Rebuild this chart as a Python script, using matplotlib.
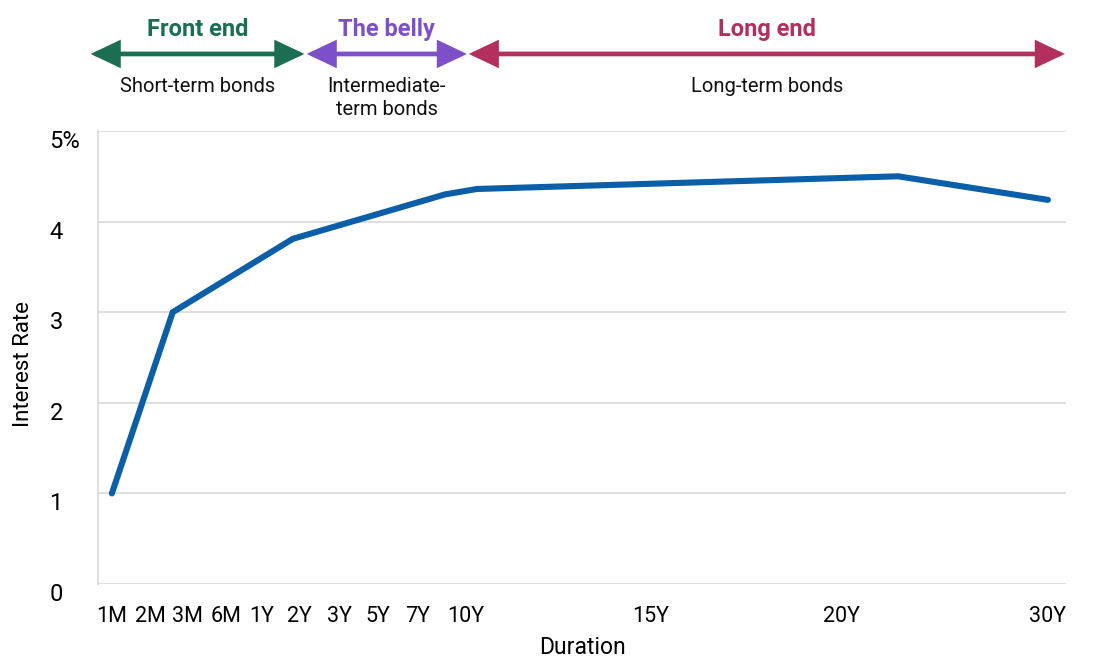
import matplotlib.pyplot as plt
from matplotlib.transforms import ScaledTranslation

plt.rcParams['font.family'] = ['Roboto', 'DejaVu Sans']

# x axis: duration labels and their positions on the (non-linear) axis
tick_labels = ['1M', '2M', '3M', '6M', '1Y', '2Y', '3Y', '5Y', '7Y', '10Y', '15Y', '20Y', '30Y']
tick_pos = [0, 0.99, 1.97, 2.96, 3.9, 4.88, 5.9, 6.91, 7.95, 9.19, 14.0, 18.94, 24.29]

# yield curve
curve_x = [0, 1.58, 4.70, 8.65, 9.48, 20.42, 24.31]
curve_y = [1.0, 3.0, 3.81, 4.30, 4.36, 4.50, 4.24]

# curve segments shown above the chart
seg_names = ['Front end', 'The belly', 'Long end']
seg_notes = ['Short-term bonds', 'Intermediate-\nterm bonds', 'Long-term bonds']
seg_colors = ['#1b6e52', '#7d4fc9', '#b3305e']
seg_start = [-0.55, 5.06, 9.27]
seg_end = [5.0, 9.22, 24.75]

fig = plt.figure(figsize=(11, 6.66), dpi=100)
ax = fig.add_axes([0.0891, 0.1231, 0.88, 0.6802])

ax.plot(curve_x, curve_y, color='#0b5ea8', lw=4.4, solid_joinstyle='miter', solid_capstyle='round')

ax.set_xlim(-0.36, 24.78)
ax.set_ylim(0, 5)
ax.set_xticks(tick_pos)
ax.set_xticklabels(tick_labels)
ax.set_yticks([0, 1, 2, 3, 4, 5])
ax.set_yticklabels(['0', '1', '2', '3', '4', '5%'])
ax.grid(axis='y', color='#dcdcdc', lw=1.3)
ax.set_axisbelow(True)
for s in ['top', 'right', 'bottom']:
    ax.spines[s].set_visible(False)
ax.spines['left'].set_color('#dcdcdc')
ax.spines['left'].set_linewidth(1.3)
ax.tick_params(axis='x', length=0, labelsize=15.5, pad=16)
ax.tick_params(axis='y', length=0, labelsize=17, pad=35)
for lab in ax.get_yticklabels():
    lab.set_horizontalalignment('left')
    lab.set_transform(lab.get_transform() + ScaledTranslation(0, -0.08, fig.dpi_scale_trans))

ax.set_xlabel('Duration', fontsize=16.5, labelpad=6)
ax.set_ylabel('Interest Rate', fontsize=16)
ax.yaxis.set_label_coords(-0.066, 0.485)

for name, note, c, x0, x1 in zip(seg_names, seg_notes, seg_colors, seg_start, seg_end):
    ax.annotate('', xy=(x1, 0.919), xytext=(x0, 0.919),
                xycoords=('data', 'figure fraction'), textcoords=('data', 'figure fraction'),
                annotation_clip=False,
                arrowprops=dict(arrowstyle='<|-|>,head_length=0.8,head_width=0.38',
                                mutation_scale=20, color=c, lw=3.4,
                                shrinkA=0, shrinkB=0, joinstyle='miter'))
    xm = (x0 + x1) / 2
    ax.annotate(name, xy=(xm, 0.955), xycoords=('data', 'figure fraction'),
                ha='center', va='center', fontsize=17, fontweight='bold', color=c,
                annotation_clip=False)
    ax.annotate(note, xy=(xm, 0.884), xycoords=('data', 'figure fraction'),
                ha='center', va='top', fontsize=14.5, color='#111111',
                linespacing=1.25, annotation_clip=False)

fig.savefig('out.png', dpi=100)
